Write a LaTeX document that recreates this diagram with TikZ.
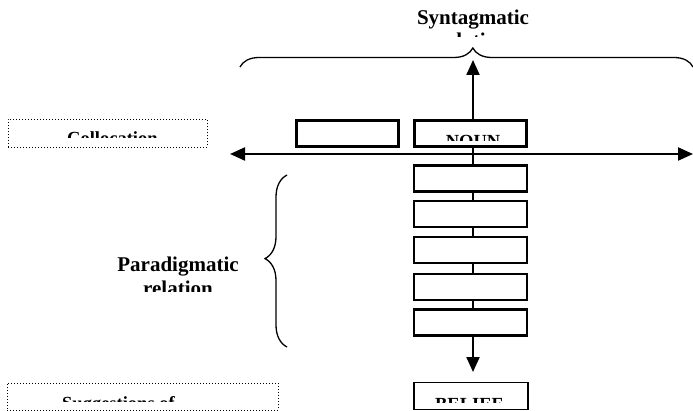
\documentclass[tikz,border=0pt]{standalone}
\usepackage{fontspec}
\setmainfont{Liberation Serif}
\usetikzlibrary{arrows.meta,decorations.pathreplacing}

\begin{document}
\begin{tikzpicture}[x=1pt,y=-1pt,
		box/.style={draw,line width=2.6pt,inner sep=0pt},
		dotbox/.style={draw,dotted,line width=1pt,inner sep=0pt},
		big/.style={font=\fontsize{21}{25}\selectfont\bfseries,inner sep=0pt},
		lab/.style={font=\fontsize{18.5}{22}\selectfont\bfseries,inner sep=0pt},
		arr/.style={line width=2.2pt,-{Triangle[length=15pt,width=13pt]}},
		brc/.style={decorate,decoration={brace,amplitude=#1,aspect=0.514},line width=1.3pt}]
		\useasboundingbox (0,0) rectangle (693,411);
		\node[dotbox,minimum width=199pt,minimum height=28pt] (coll) at (107.5,133.5) {};
		\node[box,minimum width=102pt,minimum height=26pt] (adj) at (347.5,133.5) {};
		\node[box,minimum width=112pt,minimum height=26pt] (noun) at (470.5,133.5) {};
		\foreach \n/\y in {1/178.5,2/214,3/250,4/287,5/322.5}
			\node[box,line width=2.2pt,minimum width=113pt,minimum height=26pt] (p\n) at (470.5,\y) {};
		\node[box,line width=1.6pt,minimum width=114pt,minimum height=27pt] (bel) at (471,396) {};
		\node[dotbox,minimum width=271pt,minimum height=27pt] (sugg) at (142.5,396.5) {};
		\coordinate (up) at (473,60);
		\coordinate (down) at (473,372);
		\coordinate (hl) at (230,154);
		\coordinate (hr) at (693,154);
		\draw[arr] (noun.north -| up) -- (up);
		\draw[line width=2.2pt] (noun.south -| up) -- (p1.north -| up);
		\foreach \a/\b in {1/2,2/3,3/4,4/5}
			\draw[line width=2.2pt] (p\a.south -| up) -- (p\b.north -| up);
		\draw[arr] (p5.south -| down) -- (down);
		\draw[line width=2.2pt,{Triangle[length=15pt,width=13pt]}-{Triangle[length=15pt,width=13pt]}] (hl) -- (hr);
		\coordinate (sl) at (240,67);
		\coordinate (sr) at (693,67);
		\draw[brc=19pt] (sl) -- (sr);
		\coordinate (pb) at (287,347);
		\coordinate (pt) at (287,175);
		\draw[brc=22pt] (pb) -- (pt);
		\node[big,anchor=base] (syn) at (473,24.5) {Syntagmatic};
		\begin{scope}
			\clip (400,0) rectangle (560,37);
			\node[big,anchor=base] (synrel) at (473,48) {relation};
		\end{scope}
		\node[big,anchor=base] (par) at (178,272) {Paradigmatic};
		\begin{scope}
			\clip (100,276) rectangle (260,292);
			\node[big,anchor=base] (parrel) at (178,296) {relation};
		\end{scope}
		\begin{scope}
			\clip (415,121) rectangle (526,141);
			\node[lab,anchor=base] (nountxt) at (473,148) {NOUN};
		\end{scope}
		\begin{scope}
			\clip (10,121) rectangle (205,137.5);
			\node[lab,anchor=base west] (colltxt) at (67,145) {Collocation};
		\end{scope}
		\begin{scope}
			\clip (415,384) rectangle (527,402);
			\node[lab,anchor=base] (beltxt) at (469,410) {BELIEF};
		\end{scope}
		\begin{scope}
			\clip (9,385) rectangle (276,401);
			\node[lab,anchor=base west] (suggtxt) at (62,409) {Suggestions of};
		\end{scope}
	\end{tikzpicture}
\end{document}
